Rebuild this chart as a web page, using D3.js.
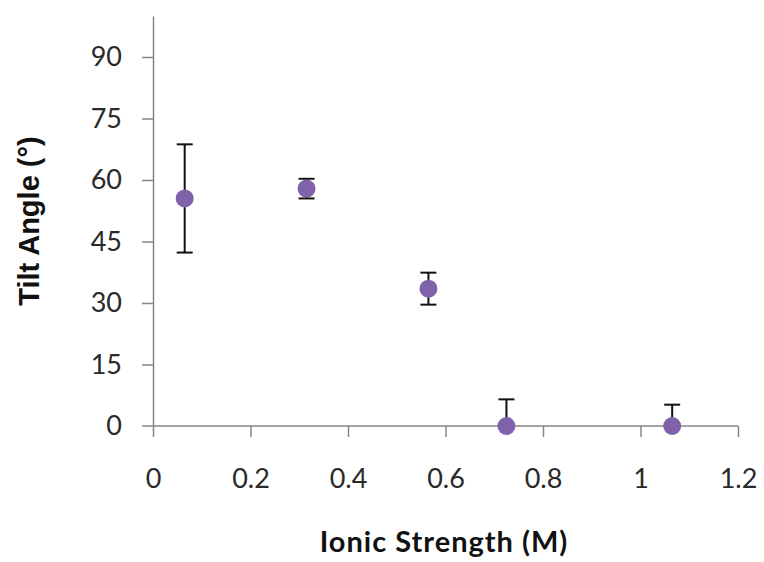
<!DOCTYPE html>
<html>
<head>
<meta charset="utf-8">
<script src="https://cdn.jsdelivr.net/npm/d3@7"></script>
<style>
  body { margin: 0; background: #fff; }
  svg { display: block; }
</style>
</head>
<body>
<div id="chart"></div>
<script>
// ionic strength (M) vs tilt angle (degrees)
const ionicStrength = [0.065, 0.315, 0.565, 0.725, 1.065];
const tiltAngle = [55.5, 57.9, 33.5, 0, 0];
const errPlus = [13.2, 2.4, 3.9, 6.5, 5.2];
const errMinus = [13.2, 2.4, 3.9, 0, 0];
const xTicks = [0, 0.2, 0.4, 0.6, 0.8, 1.0, 1.2];
const yTicks = [0, 15, 30, 45, 60, 75, 90];

const width = 764, height = 562;
const axisColor = "#868686";
const dotColor = "#7f62aa";

const svg = d3.select("#chart").append("svg")
    .attr("width", width)
    .attr("height", height);

let x = d3.scaleLinear().domain([0, 1.2]).range([153, 738]);
let y = d3.scaleLinear().domain([0, 100]).range([426, 16]);

// y axis
let yAxis = d3.axisLeft(y).tickValues(yTicks).tickSize(11).tickSizeOuter(0).tickPadding(20);
let gy = svg.append("g").attr("transform", "translate(" + x(0) + ",0)").call(yAxis);
gy.select(".domain").attr("stroke", axisColor).attr("stroke-width", 1.5);
gy.selectAll(".tick line").attr("stroke", axisColor).attr("stroke-width", 1.5);
gy.selectAll(".tick text")
    .attr("fill", "#2a2a2a")
    .style("font-family", "Lato, 'Open Sans', sans-serif")
    .style("font-size", "27px");
gy.selectAll(".tick").filter(d => d === 0).select("line").remove();

// x axis
let xAxis = d3.axisBottom(x).tickValues(xTicks).tickSize(11).tickSizeOuter(0).tickPadding(32)
    .tickFormat(d => d3.format("~g")(d));
let gx = svg.append("g").attr("transform", "translate(0," + y(0) + ")").call(xAxis);
gx.select(".domain").attr("stroke", axisColor).attr("stroke-width", 1.5)
    .attr("d", "M" + (x(0) - 11) + ",0H" + x(1.2));
gx.selectAll(".tick line").attr("stroke", axisColor).attr("stroke-width", 1.5);
gx.selectAll(".tick text")
    .attr("fill", "#2a2a2a")
    .style("font-family", "Lato, 'Open Sans', sans-serif")
    .style("font-size", "27px");

// error bars
let pts = ionicStrength.map((v, i) => ({x: v, y: tiltAngle[i], hi: tiltAngle[i] + errPlus[i], lo: tiltAngle[i] - errMinus[i]}));
let capW = 8;
let eb = svg.append("g").attr("stroke", "#111").attr("stroke-width", 2).attr("fill", "none");
pts.forEach(function(p){
    eb.append("line").attr("x1", x(p.x)).attr("x2", x(p.x)).attr("y1", y(p.lo)).attr("y2", y(p.hi));
    eb.append("line").attr("x1", x(p.x) - capW).attr("x2", x(p.x) + capW).attr("y1", y(p.hi)).attr("y2", y(p.hi));
    if (p.lo < p.y)
        eb.append("line").attr("x1", x(p.x) - capW).attr("x2", x(p.x) + capW).attr("y1", y(p.lo)).attr("y2", y(p.lo));
});

// points
svg.append("g").selectAll("circle")
    .data(pts)
    .enter().append("circle")
    .attr("cx", d => x(d.x))
    .attr("cy", d => y(d.y))
    .attr("r", 9)
    .attr("fill", dotColor);

// axis titles
svg.append("text")
    .attr("x", 444)
    .attr("y", 552)
    .attr("text-anchor", "middle")
    .style("font-family", "Lato, 'Open Sans', sans-serif")
    .style("font-weight", "bold")
    .style("font-size", "29px")
    .style("letter-spacing", "1px")
    .attr("fill", "#111")
    .text("Ionic Strength (M)");

svg.append("text")
    .attr("transform", "translate(39,221) rotate(-90)")
    .attr("text-anchor", "middle")
    .style("font-family", "'Liberation Sans', Arial, sans-serif")
    .style("font-weight", "bold")
    .style("font-size", "29px")
    .attr("fill", "#111")
    .text("Tilt Angle (°)");
</script>
</body>
</html>
